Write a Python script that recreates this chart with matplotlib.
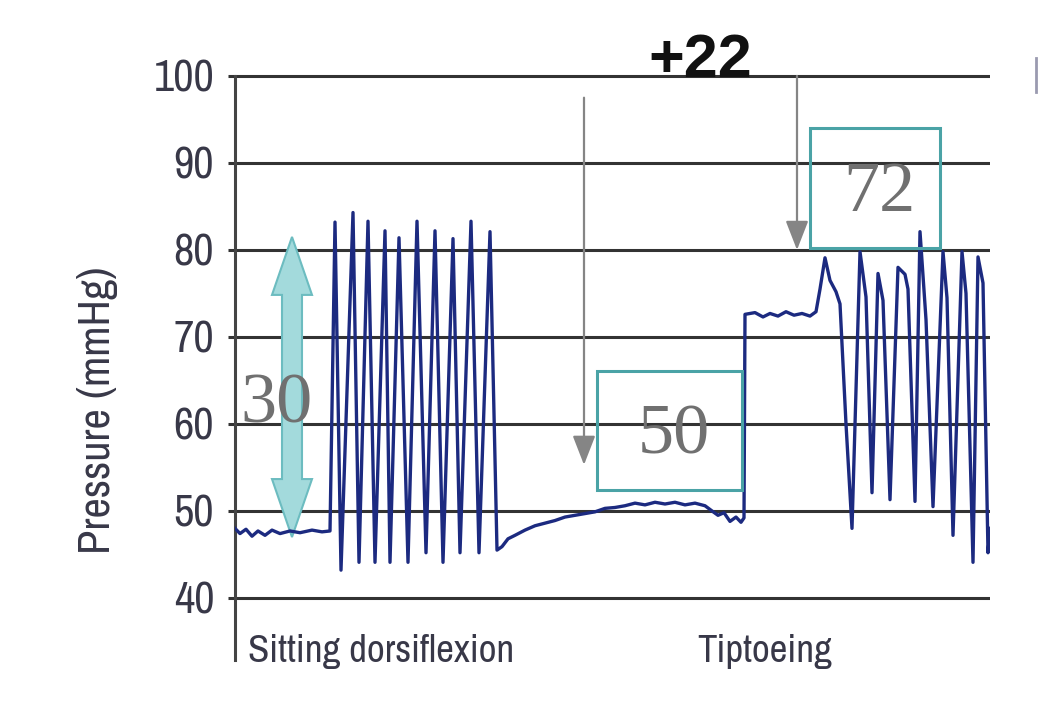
import matplotlib.pyplot as plt
from matplotlib.patches import Rectangle, Polygon
from matplotlib.lines import Line2D
from matplotlib import font_manager

# pressure trace (time in samples, pressure in mmHg)
t = [0, 5, 11, 17, 23, 30, 37, 45, 55, 65, 77, 87, 95,
     100, 106, 118, 124, 133, 140, 150, 155, 164, 173, 182, 191,
     200, 208, 218, 225, 236, 244, 255, 262,
     267, 273, 280, 290, 300, 310, 320, 330, 340, 350, 360, 370,
     380, 390, 400, 410, 420, 430, 440, 450, 460, 470, 477, 483,
     489, 495, 501, 506, 509,
     510, 520, 528, 535, 543, 551, 559, 567, 575, 581, 585, 590,
     595, 601, 605, 611, 617, 625, 631, 637, 643, 648, 655, 663,
     670, 673, 680, 685, 691, 698, 708, 712, 718, 727, 731, 738,
     743, 748, 753, 755]
pressure = [48.0, 47.4, 47.9, 47.1, 47.7, 47.2, 47.8, 47.4, 47.7, 47.5, 47.8, 47.6, 47.7,
            83.2, 43.2, 84.3, 44.1, 83.3, 44.1, 82.2, 44.1, 81.4, 44.1, 83.3, 45.2,
            82.2, 44.1, 81.3, 45.2, 83.3, 45.2, 82.1, 45.5,
            45.9, 46.8, 47.2, 47.8, 48.3, 48.6, 48.9, 49.3, 49.5, 49.7, 49.9, 50.3,
            50.4, 50.6, 50.9, 50.7, 51.0, 50.8, 51.0, 50.7, 50.9, 50.6, 50.0, 49.5,
            49.8, 48.8, 49.3, 48.7, 49.2,
            72.6, 72.8, 72.3, 72.7, 72.4, 72.9, 72.5, 72.7, 72.4, 72.9, 75.5, 79.1,
            76.5, 75.2, 73.8, 60.0, 48.0, 79.8, 74.6, 52.1, 77.3, 74.2, 51.3, 78.0,
            77.2, 75.5, 51.1, 82.1, 72.0, 50.5, 79.8, 74.5, 47.2, 79.8, 75.0, 44.1,
            79.2, 76.2, 45.2, 48.0]

yticks = [40, 50, 60, 70, 80, 90, 100]

# annotations
range_low, range_high = 47.0, 81.5
range_x = 57
range_label = '30'
box_values = ['50', '72']
box_x = [(362, 507), (575, 705)]
box_y = [(52.4, 66.1), (80.2, 94.0)]
arrow_x = [349, 562]
arrow_top = [97.5, 100]
arrow_tip = [55.3, 80.0]
diff_label = '+22'

# narrow font if there is one
narrow = 'DejaVu Sans'
for f in font_manager.fontManager.ttflist:
    if 'Narrow' in f.name or 'Condensed' in f.name:
        narrow = f.name
        break
plt.rcParams['font.family'] = [narrow, 'DejaVu Sans']
cond = narrow != 'DejaVu Sans'
tick_fs = 32 if cond else 24
lab_fs = 28 if cond else 20.6
ylab_fs = 32 if cond else 23

fig = plt.figure(figsize=(10.42, 7.08), dpi=100)
ax = fig.add_axes([235/1042, 1-660/708, 755/1042, 588.4/708])
ax.set_xlim(0, 755)
ax.set_ylim(32.87, 100.5)

# grid lines
ax.set_yticks(yticks)
ax.set_yticklabels([str(v) for v in yticks])
ax.yaxis.grid(True, color='#333333', lw=2.2)
ax.tick_params(axis='y', direction='out', length=5, width=2.2, color='#333333',
               labelsize=tick_fs, labelcolor='#383848', pad=10)
ax.set_xticks([])
for s in ['top', 'right', 'bottom']:
    ax.spines[s].set_visible(False)
ax.spines['left'].set_color('#444444')
ax.spines['left'].set_linewidth(2.2)
ax.spines['left'].set_bounds(32.87, 100)
ax.set_axisbelow(True)

# cyan double arrow (shaft 20px, head 40px wide, 58px long)
hw, sw, hl = 20, 10, 58/8.7
pts = [(range_x - sw, range_low + hl), (range_x - hw, range_low + hl), (range_x, range_low),
       (range_x + hw, range_low + hl), (range_x + sw, range_low + hl),
       (range_x + sw, range_high - hl), (range_x + hw, range_high - hl), (range_x, range_high),
       (range_x - hw, range_high - hl), (range_x - sw, range_high - hl)]
ax.add_patch(Polygon(pts, closed=True, facecolor='#a3dadc', edgecolor='#6cbcc0', lw=1.5, zorder=2))

# trace
ax.plot(t, pressure, color='#1c2a80', lw=2.4, zorder=3)

ax.text(range_x - 15, 62.2, range_label, family='Liberation Serif', fontsize=52,
        color='#707070', ha='center', va='center', zorder=4)

# boxes with values
for lab, (x0, x1), (y0, y1) in zip(box_values, box_x, box_y):
    ax.add_patch(Rectangle((x0, y0), x1 - x0, y1 - y0, fill=False,
                           edgecolor='#4aa3a6', lw=2.2, zorder=4))
    ax.text((x0 + x1) / 2 + 4, (y0 + y1) / 2 - 0.6, lab, family='Liberation Serif',
            fontsize=52, color='#707070', ha='center', va='center', zorder=4)

# gray arrows
for x, top, tip in zip(arrow_x, arrow_top, arrow_tip):
    ax.annotate('', xy=(x, tip), xytext=(x, top),
                arrowprops=dict(arrowstyle='-|>,head_width=0.35,head_length=0.9',
                                color='#858585', lw=1.6, mutation_scale=20, shrinkA=0, shrinkB=0),
                zorder=4, annotation_clip=False)

ax.text(465, 99.9, diff_label, family=['Liberation Sans', 'DejaVu Sans'], fontweight='bold',
        fontsize=44, color='#111111', ha='center', va='baseline')

# x labels
ax.text(13, 33.8, 'Sitting dorsiflexion', fontsize=lab_fs, color='#383848', va='center', ha='left')
ax.text(462, 33.8, 'Tiptoeing', fontsize=lab_fs, color='#383848', va='center', ha='left')

fig.text(97/1042, 1-410/708, 'Pressure (mmHg)', rotation=90, fontsize=ylab_fs,
         color='#383848', ha='center', va='center')

# cut-off element at the right edge
fig.add_artist(Line2D([1036/1042, 1036/1042], [1-92/708, 1-58/708], color='#9a9ab0', lw=2))

fig.savefig('out.png', dpi=100)
